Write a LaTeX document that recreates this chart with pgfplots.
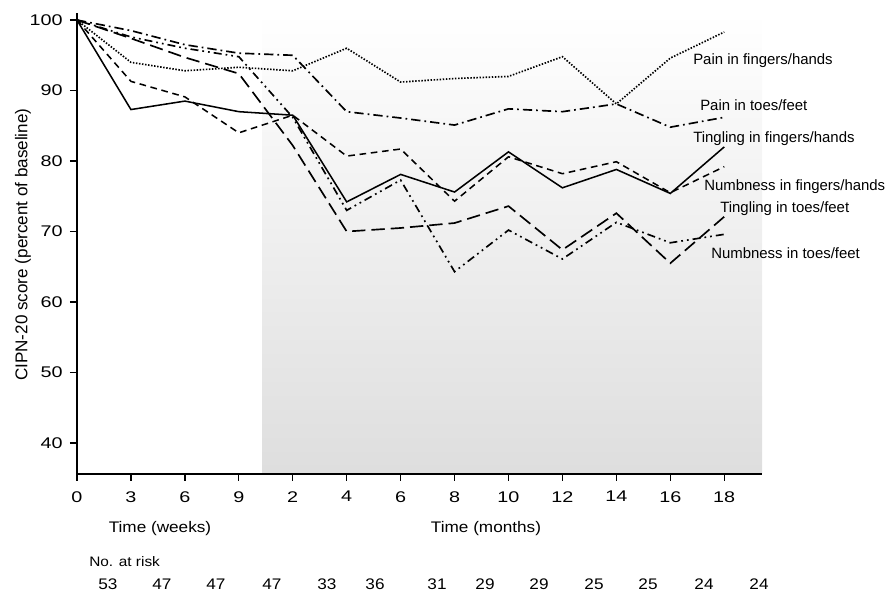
\documentclass[border=0pt]{standalone}
\usepackage{fontspec}
\setmainfont{Liberation Sans}
\newfontfamily\widefont[FakeStretch=1.12]{Liberation Sans}
\newfontfamily\wideerfont[FakeStretch=1.28]{Liberation Sans}
\usepackage{pgfplots}
\pgfplotsset{compat=1.18}
\newcommand{\tickf}{\wideerfont\fontsize{11.6}{13}\selectfont}
\newcommand{\botf}{\widefont\fontsize{11.5}{13}\selectfont}
\newcommand{\labf}{\fontsize{11.2}{13}\selectfont}
\begin{document}
\begin{tikzpicture}
\begin{axis}[
  at={(0,0)}, anchor=south west,
  width=513.75pt, height=345.75pt, scale only axis,
  xmin=0, xmax=12.7, ymin=35.6, ymax=101,
  axis x line*=bottom, axis y line*=left,
  axis line style={-, line width=1.5pt},
  xtick={0,1,2,3,4,5,6,7,8,9,10,11,12},
  xticklabels={0,3,6,9,2,4,6,8,10,12,14,16,18},
  ytick={40,50,60,70,80,90,100},
  tick align=outside, major tick length=5.25pt,
  tick style={line width=1pt, black},
  ticklabel style={font=\tickf},
  /pgf/number format/assume math mode=true,
  xticklabel style={anchor=north, inner sep=0pt, yshift=-7.5pt},
  yticklabel style={anchor=east, inner sep=0pt, xshift=-5.25pt},
  clip=false,
  axis on top,
]
\addplot[draw=none, top color=white, bottom color=black!13] coordinates {(3.43,35.6) (12.7,35.6) (12.7,101) (3.43,101)} -- cycle;

% Tingling in fingers/hands (solid)
\addplot[black, line width=1.15pt, sharp plot] coordinates {
(0,100) (1,87.3) (2,88.5) (3,87.0) (4,86.5) (5,74.2) (6,78.1) (7,75.6) (8,81.3) (9,76.2) (10,78.8) (11,75.4) (12,82.0)};
% Numbness in fingers/hands (short dash)
\addplot[black, line width=1.15pt, dash pattern=on 5pt off 3.5pt] coordinates {
(0,100) (1,91.3) (2,89.1) (3,84.0) (4,86.5) (5,80.7) (6,81.7) (7,74.3) (8,80.6) (9,78.2) (10,79.9) (11,75.5) (12,79.2)};
% Pain in fingers/hands (dotted)
\addplot[black, line width=1.25pt, dash pattern=on 1.1pt off 1.2pt] coordinates {
(0,100) (1,94.0) (2,92.8) (3,93.3) (4,92.8) (5,96.0) (6,91.2) (7,91.7) (8,92.0) (9,94.8) (10,88.1) (11,94.6) (12,98.3)};
% Pain in toes/feet (dash dot)
\addplot[black, line width=1.25pt, dash pattern=on 7pt off 3pt on 1.3pt off 3pt] coordinates {
(0,100) (1,98.5) (2,96.5) (3,95.3) (4,95.0) (5,87.0) (6,86.1) (7,85.1) (8,87.4) (9,87.0) (10,88.1) (11,84.8) (12,86.2)};
% Tingling in toes/feet (long dash)
\addplot[black, line width=1.25pt, dash pattern=on 10pt off 4.5pt] coordinates {
(0,100) (1,97.4) (2,94.7) (3,92.4) (4,82.2) (5,70.0) (6,70.5) (7,71.2) (8,73.6) (9,67.4) (10,72.6) (11,65.5) (12,72.1)};
% Numbness in toes/feet (dash dot dot)
\addplot[black, line width=1.25pt, dash pattern=on 6pt off 3pt on 1.3pt off 3pt on 1.3pt off 3pt] coordinates {
(0,100) (1,97.6) (2,96.0) (3,94.8) (4,86.2) (5,73.0) (6,77.3) (7,64.3) (8,70.2) (9,66.1) (10,71.3) (11,68.4) (12,69.6)};
\end{axis}
% curve labels
\node[anchor=west, inner sep=0pt, font=\labf] at (462pt,309.75pt) {Pain in fingers/hands};
\node[anchor=west, inner sep=0pt, font=\labf] at (467.25pt,276.75pt) {Pain in toes/feet};
\node[anchor=west, inner sep=0pt, font=\labf] at (462pt,251.25pt) {Tingling in fingers/hands};
\node[anchor=west, inner sep=0pt, font=\labf] at (470.25pt,215.25pt) {Numbness in fingers/hands};
\node[anchor=west, inner sep=0pt, font=\labf] at (482.25pt,198.75pt) {Tingling in toes/feet};
\node[anchor=west, inner sep=0pt, font=\labf] at (475.5pt,165.75pt) {Numbness in toes/feet};
% y label
\node[rotate=90, inner sep=0pt, font=\fontsize{12.8}{14}\selectfont] at (-40.5pt,172pt) {CIPN-20 score (percent of baseline)};
% x labels
\node[inner sep=0pt, font=\botf] at (62.25pt,-41.25pt) {Time (weeks)};
\node[inner sep=0pt, font=\botf] at (306.75pt,-41.25pt) {Time (months)};
\node[anchor=west, inner sep=0pt, font=\widefont\fontsize{10.3}{12}\selectfont] at (9pt,-66pt) {No. at risk};
\foreach \xx/\nn in {23.25/53, 63.75/47, 104.25/47, 146.25/47, 187.5/33, 223.5/36, 270/31, 306/29, 346.5/29, 387.75/25, 428.25/25, 470.25/24, 511.5/24}{
  \node[inner sep=0pt, font=\botf] at (\xx pt,-82.5pt) {\nn};
}
\pgfresetboundingbox
\path[use as bounding box] (-57.75pt,-98.25pt) rectangle (611.25pt,355.5pt);
\end{tikzpicture}
\end{document}
